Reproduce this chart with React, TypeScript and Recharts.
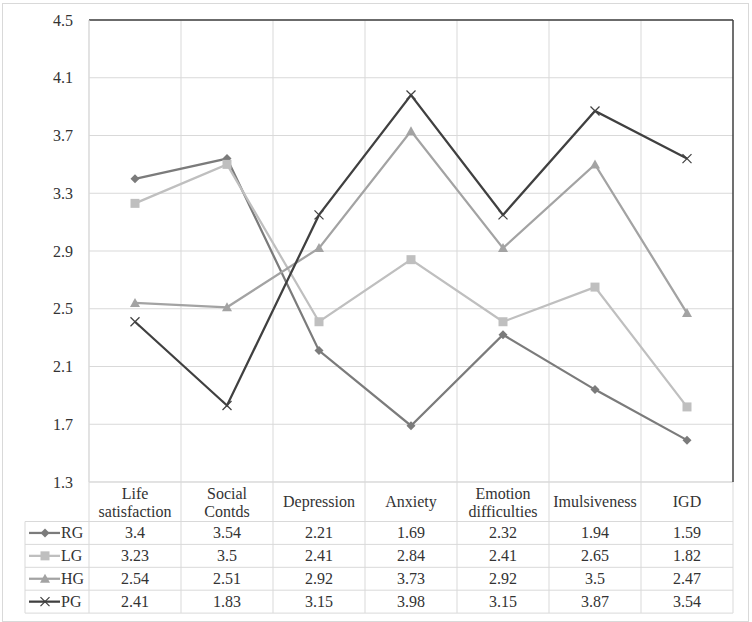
import React from "react";
import {
    LineChart, Line, XAxis, YAxis, CartesianGrid, ReferenceLine,
} from "recharts";

// categories + group means
const categories = [
    "Life satisfaction", "Social Contds", "Depression", "Anxiety",
    "Emotion difficulties", "Imulsiveness", "IGD",
];
const rg = [3.4, 3.54, 2.21, 1.69, 2.32, 1.94, 1.59];
const lg = [3.23, 3.5, 2.41, 2.84, 2.41, 2.65, 1.82];
const hg = [2.54, 2.51, 2.92, 3.73, 2.92, 3.5, 2.47];
const pg = [2.41, 1.83, 3.15, 3.98, 3.15, 3.87, 3.54];
const yTicks = [1.3, 1.7, 2.1, 2.5, 2.9, 3.3, 3.7, 4.1, 4.5];

type Shape = "diamond" | "square" | "triangle" | "cross";

const series: { key: string; name: string; values: number[]; color: string; shape: Shape }[] = [
    { key: "rg", name: "RG", values: rg, color: "#7b7b7b", shape: "diamond" },
    { key: "lg", name: "LG", values: lg, color: "#bfbfbf", shape: "square" },
    { key: "hg", name: "HG", values: hg, color: "#a3a3a3", shape: "triangle" },
    { key: "pg", name: "PG", values: pg, color: "#404040", shape: "cross" },
];

const data = categories.map((name, i) => ({
    name,
    rg: rg[i], lg: lg[i], hg: hg[i], pg: pg[i],
}));

const FONT = "'Liberation Serif', 'Times New Roman', serif";
const GRID = "#d9d9d9";
const TEXT = "#333333";
const W = 752;
const H = 622;
const PLOT_LEFT = 89;
const PLOT_RIGHT = 733;
const COL_W = (PLOT_RIGHT - PLOT_LEFT) / categories.length;
const HEAD_H = 39.5;   // category label row
const ROW_H = 22.9;    // each series row
const LEG_W = 64;      // legend column left of the plot
const txt = { fontFamily: FONT, fontSize: 16, fill: TEXT } as const;

const marker = (shape: Shape, cx: number, cy: number, color: string, key?: React.Key) => {
    switch (shape) {
        case "diamond":
            return <path key={key} d={`M${cx},${cy - 4.5}L${cx + 4.5},${cy}L${cx},${cy + 4.5}L${cx - 4.5},${cy}Z`} fill={color} />;
        case "square":
            return <rect key={key} x={cx - 4.5} y={cy - 4.5} width={9} height={9} fill={color} />;
        case "triangle":
            return <path key={key} d={`M${cx},${cy - 5}L${cx + 5},${cy + 4}L${cx - 5},${cy + 4}Z`} fill={color} />;
        default:
            return (
                <g key={key} stroke={color} strokeWidth={1.3}>
                    <line x1={cx - 4.5} y1={cy - 4.5} x2={cx + 4.5} y2={cy + 4.5} />
                    <line x1={cx - 4.5} y1={cy + 4.5} x2={cx + 4.5} y2={cy - 4.5} />
                </g>
            );
    }
};

const YTick = (props: any) => {
    const { x, y, payload } = props;
    return (
        <text x={x} y={y} textAnchor="end" dominantBaseline="central" style={txt}>
            {Number(payload.value).toFixed(1)}
        </text>
    );
};

// each x tick draws its own column of the data table (label + 4 values)
const TableTick = (props: any) => {
    const { x, y, payload, index } = props;
    const left = x - COL_W / 2;
    const right = x + COL_W / 2;
    const words = String(payload.value).split(" ");
    const rowsTop = y + HEAD_H;
    const bottom = rowsTop + ROW_H * series.length;
    return (
        <g>
            {/* column borders */}
            <line x1={right} y1={y} x2={right} y2={bottom} stroke={GRID} />
            {index === 0 && <line x1={left} y1={y} x2={left} y2={bottom} stroke={GRID} />}
            {index === 0 && <line x1={left - LEG_W} y1={rowsTop} x2={left - LEG_W} y2={bottom} stroke={GRID} />}
            {series.map((s, k) => (
                <line key={"h" + k} x1={index === 0 ? left - LEG_W : left} y1={rowsTop + ROW_H * k}
                      x2={right} y2={rowsTop + ROW_H * k} stroke={GRID} />
            ))}
            <line x1={index === 0 ? left - LEG_W : left} y1={bottom} x2={right} y2={bottom} stroke={GRID} />
            {/* category label */}
            {words.length === 1 ? (
                <text x={x} y={y + HEAD_H / 2} textAnchor="middle" dominantBaseline="central" style={txt}>{words[0]}</text>
            ) : (
                words.map((w, j) => (
                    <text key={j} x={x} y={y + 11 + j * 18.5} textAnchor="middle" dominantBaseline="central" style={txt}>{w}</text>
                ))
            )}
            {/* values */}
            {series.map((s, k) => (
                <text key={s.key} x={x} y={rowsTop + ROW_H * (k + 0.5)} textAnchor="middle"
                      dominantBaseline="central" style={txt}>{String(s.values[index])}</text>
            ))}
            {/* legend keys */}
            {index === 0 && series.map((s, k) => {
                const cy = rowsTop + ROW_H * (k + 0.5);
                const lx = left - LEG_W + 4;
                return (
                    <g key={"leg" + k}>
                        <line x1={lx} y1={cy} x2={lx + 31} y2={cy} stroke={s.color} strokeWidth={2.25} />
                        {marker(s.shape, lx + 16, cy, s.color)}
                        <text x={lx + 32} y={cy} dominantBaseline="central" style={txt}>{s.name}</text>
                    </g>
                );
            })}
        </g>
    );
};

export default function App() {
    return (
        <div style={{ position: "absolute", left: 0, top: 0, width: W, height: H, background: "#fff" }}>
            <div style={{ position: "absolute", left: 2, top: 3, width: 745, height: 617, border: `1px solid ${GRID}` }} />
            <div style={{ position: "absolute", left: 0, top: 0 }}>
                <LineChart width={W} height={H} data={data}
                           margin={{ top: 20, right: W - PLOT_RIGHT - 1, bottom: 8, left: 29 }}>
                    <CartesianGrid stroke={GRID} strokeWidth={1}
                                   verticalCoordinatesGenerator={({ offset }: any) =>
                                       categories.map((_, i) => offset.left + (i * offset.width) / categories.length)} />
                    <XAxis dataKey="name" scale="band" height={132} interval={0} tickLine={false} tickSize={0}
                           tickMargin={0} axisLine={{ stroke: GRID }} tick={<TableTick />} />
                    <YAxis domain={[1.3, 4.5]} ticks={yTicks} width={60} tickLine={false} tickSize={0} tickMargin={16}
                           axisLine={{ stroke: GRID }} interval={0} tick={<YTick />} />
                    <YAxis yAxisId="r" orientation="right" width={1} domain={[1.3, 4.5]} tick={false}
                           tickLine={false} axisLine={{ stroke: "#404040", strokeWidth: 1.5 }} />
                    <ReferenceLine y={4.5} stroke="#404040" strokeWidth={1.5} />
                    {series.map((s) => (
                        <Line key={s.key} type="linear" dataKey={s.key} name={s.name} stroke={s.color}
                              strokeWidth={2.25} isAnimationActive={false}
                              dot={(p: any) => marker(s.shape, p.cx, p.cy, s.color, `${s.key}-${p.index}`)}
                              activeDot={false} />
                    ))}
                </LineChart>
            </div>
        </div>
    );
}
